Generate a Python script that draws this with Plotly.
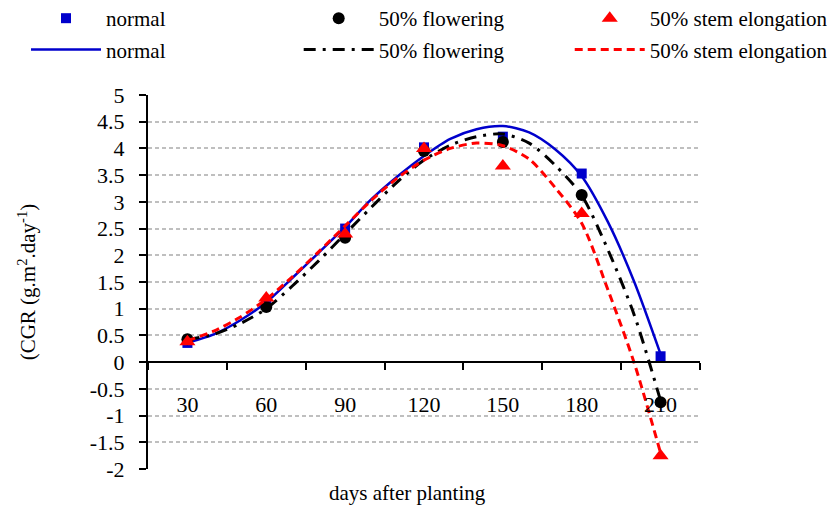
import plotly.graph_objects as go

# observed data points
days = [30, 60, 90, 120, 150, 180, 210]
normal_pts = [0.36, 1.1, 2.5, 4.02, 4.22, 3.53, 0.11]
flowering_pts = [0.43, 1.03, 2.33, 3.95, 4.12, 3.13, -0.75]
stem_pts = [0.38, 1.2, 2.4, 4.0, 3.67, 2.78, -1.75]

# fitted curves
curve_days = [30, 40, 50, 60, 70, 80, 90, 100, 110, 120, 130, 140, 150, 160, 170, 180, 190, 200, 210]
normal_curve = [0.36, 0.52, 0.78, 1.12, 1.58, 2.05, 2.53, 3.05, 3.48, 3.86, 4.18, 4.36, 4.42, 4.3, 3.98, 3.48, 2.62, 1.5, 0.15]
flowering_curve = [0.42, 0.52, 0.72, 1.0, 1.43, 1.9, 2.4, 2.9, 3.38, 3.78, 4.06, 4.22, 4.27, 4.1, 3.68, 3.12, 2.1, 0.88, -0.72]
stem_curve = [0.4, 0.58, 0.84, 1.18, 1.6, 2.07, 2.55, 3.03, 3.45, 3.78, 4.0, 4.1, 4.05, 3.8, 3.26, 2.6, 1.35, -0.02, -1.7]

x_ticks = [30, 60, 90, 120, 150, 180, 210]
x_bound_ticks = [15, 45, 75, 105, 135, 165, 195, 225]
y_ticks = [-2, -1.5, -1, -0.5, 0, 0.5, 1, 1.5, 2, 2.5, 3, 3.5, 4, 4.5, 5]

FONT = "Liberation Serif, Times New Roman, serif"
BLUE = "#0000CC"
RED = "#FF0000"

fig = go.Figure()

# column 1: normal
fig.add_trace(go.Scatter(x=days, y=normal_pts, mode="markers", name="normal",
                         marker=dict(symbol="square", size=10, color=BLUE),
                         legend="legend", legendgroup="a1"))
fig.add_trace(go.Scatter(x=curve_days, y=normal_curve, mode="lines", name="normal",
                         line=dict(color=BLUE, width=2.5, shape="spline", smoothing=0.8),
                         legend="legend", legendgroup="a2"))
# column 2: 50% flowering
fig.add_trace(go.Scatter(x=days, y=flowering_pts, mode="markers", name="50% flowering",
                         marker=dict(symbol="circle", size=12, color="black"),
                         legend="legend2", legendgroup="b1"))
fig.add_trace(go.Scatter(x=curve_days, y=flowering_curve, mode="lines", name="50% flowering",
                         line=dict(color="black", width=3, dash="12px,7px,3px,7px", shape="spline", smoothing=0.8),
                         legend="legend2", legendgroup="b2"))
# column 3: 50% stem elongation
fig.add_trace(go.Scatter(x=days, y=stem_pts, mode="markers", name="50% stem elongation",
                         marker=dict(symbol="triangle-up", size=14, color=RED),
                         legend="legend3", legendgroup="c1"))
fig.add_trace(go.Scatter(x=curve_days, y=stem_curve, mode="lines", name="50% stem elongation",
                         line=dict(color=RED, width=3, dash="8px,5px", shape="spline", smoothing=0.8),
                         legend="legend3", legendgroup="c2"))


def leg(xpos):
    return dict(orientation="v", x=xpos, y=1.163, xanchor="left", yanchor="middle",
                itemwidth=70, tracegroupgap=1, traceorder="grouped",
                font=dict(family=FONT, size=21, color="black"), bgcolor="rgba(0,0,0,0)")


fig.update_layout(
    width=835, height=510,
    margin=dict(l=140, r=143, t=87, b=49, autoexpand=False),
    paper_bgcolor="white", plot_bgcolor="white",
    font=dict(family=FONT, size=21, color="black"),
    showlegend=True,
    legend=leg(-0.221),
    legend2=leg(0.273),
    legend3=leg(0.764),
    xaxis=dict(range=[15, 225], tickvals=x_ticks, ticktext=[str(v) for v in x_ticks],
               ticks="", showgrid=False, zeroline=False,
               showline=True, linecolor="black", linewidth=2,
               anchor="free", position=2 / 7,
               ticklabelstandoff=22,
               minor=dict(tickvals=x_bound_ticks, ticks="outside", ticklen=7, tickwidth=2,
                          tickcolor="black", showgrid=False),
               tickfont=dict(family=FONT, size=22)),
    yaxis=dict(range=[-2, 5], tickvals=y_ticks, ticktext=[f"{v:g}" for v in y_ticks],
               showgrid=True, gridcolor="#BFBFBF", gridwidth=1.5, griddash="4px,3px",
               zeroline=False, showline=True, linecolor="black", linewidth=2,
               ticks="outside", ticklen=7, tickwidth=2, tickcolor="black",
               ticklabelstandoff=10,
               tickfont=dict(family=FONT, size=22),
               title=dict(text="(CGR (g.m<sup>2</sup>.day<sup>-1</sup>)", standoff=48,
                          font=dict(family=FONT, size=21))),
    annotations=[dict(text="days after planting", xref="paper", yref="paper",
                      x=0.471, y=-0.064, xanchor="center", yanchor="middle",
                      showarrow=False, font=dict(family=FONT, size=21))],
)

fig.write_html("out.html")
